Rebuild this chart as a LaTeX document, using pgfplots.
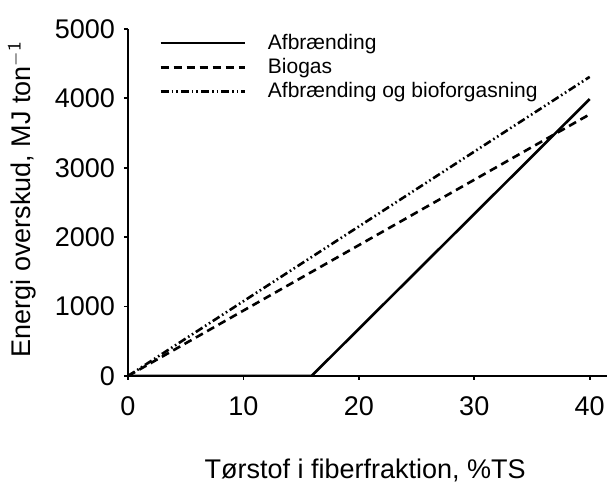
\documentclass[border=0pt]{standalone}
\usepackage{pgfplots}
\pgfplotsset{compat=1.18}
\usepackage{fontspec}
\setmainfont{Liberation Sans}
\begin{document}
\begin{tikzpicture}
\useasboundingbox (-64pt,-54.5pt) rectangle (241.5pt,188pt);
\begin{axis}[
  at={(0,0)}, anchor=south west,
  scale only axis, width=239.5pt, height=173.5pt,
  xmin=0, xmax=41.5, ymin=0, ymax=5000,
  axis x line=bottom, axis y line=left,
  axis line style={-, line width=1.2pt},
  xtick={0,10,20,30,40}, ytick={0,1000,2000,3000,4000,5000},
  tick align=outside, major tick length=2pt,
  tick style={line width=0.9pt, black},
  scaled y ticks=false,
  /pgf/number format/assume math mode=true,
  /pgf/number format/set thousands separator={},
  tick label style={font=\fontsize{13.5}{15}\selectfont},
  xticklabel style={yshift=-5pt},
  yticklabel style={xshift=-1pt},
  xlabel={Tørstof i fiberfraktion, \%TS},
  ylabel={Energi overskud, MJ ton$^{\mathsf{-1}}$},
  label style={font=\fontsize{13.5}{16}\selectfont},
  xlabel style={at={(axis description cs:0.495,-0.271)}, anchor=center},
  ylabel style={at={(axis description cs:-0.221,0.51)}, anchor=center},
  legend style={draw=none, fill=none, at={(rel axis cs:0.052,1.01)}, anchor=north west,
    font=\fontsize{10.5}{12}\selectfont, row sep=-1pt},
  legend cell align=left,
  legend image code/.code={\draw[#1] (0pt,0pt) -- (42pt,0pt); \path (51pt,0pt);},
]
\addplot[black, line width=1.3pt] coordinates {(0,0) (15.9,0) (40,3990)};
\addlegendentry{Afbrænding}
\addplot[black, line width=1.3pt, dash pattern=on 4pt off 2.5pt] coordinates {(0,0) (40,3770)};
\addlegendentry{Biogas}
\addplot[black, line width=1.3pt, dash pattern=on 4pt off 1.5pt on 0.8pt off 1.5pt on 0.8pt off 1.5pt] coordinates {(0,0) (40,4310)};
\addlegendentry{Afbrænding og bioforgasning}
\end{axis}
\end{tikzpicture}
\end{document}
